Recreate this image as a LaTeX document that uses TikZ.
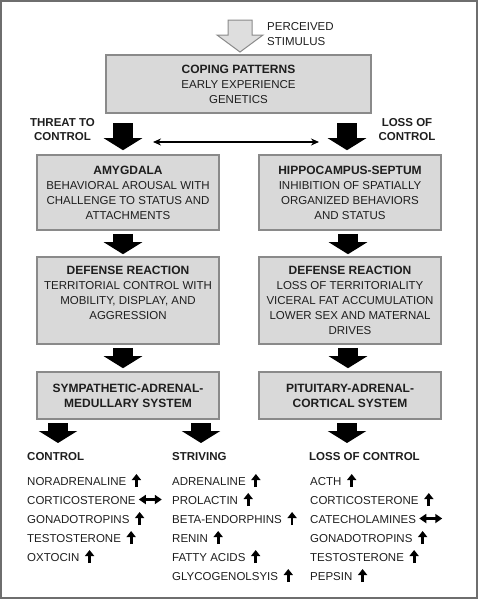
\documentclass[tikz,border=0pt]{standalone}
\usepackage{fontspec}
\setmainfont{Liberation Sans}
\usetikzlibrary{arrows.meta,positioning}
\definecolor{boxfill}{RGB}{217,217,217}
\definecolor{boxline}{RGB}{138,138,138}
\definecolor{inkgray}{RGB}{30,30,30}
\definecolor{stimfill}{RGB}{222,222,222}
\newcommand{\boxhead}{\fontsize{12}{15}\selectfont\bfseries}
\tikzset{
  box/.style={rectangle, draw=boxline, line width=1.6pt, fill=boxfill, align=center, inner sep=0pt,
    font=\fontsize{11.5}{15}\selectfont, text=inkgray},
  boldbox/.style={box, font=\boxhead},
  bigarrow/.style={black, line width=20pt, -{Triangle[width=38pt,length=12pt]}},
  stimarrow/.style={draw=boxline, fill=stimfill, line width=1pt},
  tag/.style={align=center, inner sep=0pt, font=\fontsize{11.5}{14}\selectfont\bfseries, text=inkgray},
  item/.style={anchor=base west, inner sep=0pt, font=\fontsize{11.5}{14}\selectfont, text=inkgray},
  head/.style={item, font=\fontsize{11.5}{14}\selectfont\bfseries},
  upmark/.style={black, line width=2.8pt, -{Triangle[width=9pt,length=6pt]}},
  lrmark/.style={black, line width=2.8pt, {Triangle[width=9pt,length=7pt]}-{Triangle[width=9pt,length=7pt]}},
  swap/.style={black, line width=1.6pt, {Stealth[length=8pt,width=7pt]}-{Stealth[length=8pt,width=7pt]}}
}
\begin{document}
\begin{tikzpicture}[x=1pt,y=-1pt]
\useasboundingbox (0,0) rectangle (480,600);
\draw[boxline!80!black, line width=1.5pt] (1,1) rectangle (477,598);

% stimulus
\coordinate (stim) at (228,20);
\draw[stimarrow] (stim) -- ++(24,0) -- ++(0,15) -- ++(11,0) -- ++(-23,17) -- ++(-23,-17) -- ++(11,0) -- cycle;
\node (perc) [anchor=west, align=left, inner sep=0pt, font=\fontsize{11.5}{15}\selectfont, text=inkgray] at (267,34.5) {PERCEIVED\\STIMULUS};

% boxes
\node (coping) [box, minimum width=265pt, minimum height=58pt] at (238.5,84) {{\boxhead COPING PATTERNS}\\EARLY EXPERIENCE\\GENETICS};
\node (amy) [box, minimum width=182pt, minimum height=75pt] at (128,192.5) {{\boxhead AMYGDALA}\\BEHAVIORAL AROUSAL WITH\\CHALLENGE TO STATUS AND\\ATTACHMENTS};
\node (hip) [box, minimum width=182pt, minimum height=75pt] at (350,192.5) {{\boxhead HIPPOCAMPUS-SEPTUM}\\INHIBITION OF SPATIALLY\\ORGANIZED BEHAVIORS\\AND STATUS};
\node (defl) [box, minimum width=182pt, minimum height=87pt] at (128,300.5) {{\boxhead DEFENSE REACTION}\\TERRITORIAL CONTROL WITH\\MOBILITY, DISPLAY, AND\\AGGRESSION\\\mbox{}};
\node (defr) [box, minimum width=182pt, minimum height=87pt] at (350,300.5) {{\boxhead DEFENSE REACTION}\\LOSS OF TERRITORIALITY\\VICERAL FAT ACCUMULATION\\LOWER SEX AND MATERNAL\\DRIVES};
\node (sym) [boldbox, minimum width=182pt, minimum height=47pt] at (128,395.5) {SYMPATHETIC-ADRENAL-\\MEDULLARY SYSTEM};
\node (pit) [boldbox, minimum width=182pt, minimum height=47pt] at (350,395.5) {PITUITARY-ADRENAL-\\CORTICAL SYSTEM};

% side labels
\node (threat) [tag] at (62.5,130) {THREAT TO\\CONTROL};
\node (loss) [tag] at (407,130) {LOSS OF\\CONTROL};
\coordinate (thr) at (123,123);
\coordinate (lsc) at (347,123);
\coordinate (dl) at (153,142);
\coordinate (dr) at (319,142);

% big arrows
\draw[bigarrow, shorten >=4pt] (thr) -- ([xshift=-5pt]amy.north);
\draw[bigarrow, shorten >=4pt] (lsc) -- ([xshift=-3pt]hip.north);
\draw[swap] (dl) -- (dr);
\draw[bigarrow, shorten <=3pt, shorten >=2pt] ([xshift=-5pt]amy.south) -- ([xshift=-5pt]defl.north);
\draw[bigarrow, shorten <=3pt, shorten >=2pt] ([xshift=-2pt]hip.south) -- ([xshift=-2pt]defr.north);
\draw[bigarrow, shorten <=3pt, shorten >=3pt] ([xshift=-5pt]defl.south) -- ([xshift=-5pt]sym.north);
\draw[bigarrow, shorten <=3pt, shorten >=3pt] ([xshift=-2pt]defr.south) -- ([xshift=-2pt]pit.north);
\coordinate (ctop) at (58,423);
\coordinate (stop) at (201,423);
\coordinate (ltop) at (347,423);
\draw[bigarrow] (ctop) -- ++(0,20);
\draw[bigarrow] (stop) -- ++(0,20);
\draw[bigarrow] (ltop) -- ++(0,20);

% control column
\node (hctl) [head] at (27,460) {CONTROL};
\node (c1) [item] at (27,485) {NORADRENALINE};
\node (c2) [item] at (27,504) {CORTICOSTERONE};
\node (c3) [item] at (27,523) {GONADOTROPINS};
\node (c4) [item] at (27,542) {TESTOSTERONE};
\node (c5) [item] at (27,561) {OXTOCIN};
\draw[upmark] ([xshift=10pt,yshift=-2pt]c1.base east) -- ++(0,-13);
\draw[lrmark] ([xshift=3pt,yshift=4.5pt]c2.base east) -- ++(23,0);
\draw[upmark] ([xshift=10pt,yshift=-2pt]c3.base east) -- ++(0,-13);
\draw[upmark] ([xshift=10pt,yshift=-2pt]c4.base east) -- ++(0,-13);
\draw[upmark] ([xshift=10pt,yshift=-2pt]c5.base east) -- ++(0,-13);

% striving column
\node (hstr) [head] at (172,460) {STRIVING};
\node (s1) [item] at (172,485) {ADRENALINE};
\node (s2) [item] at (172,504) {PROLACTIN};
\node (s3) [item] at (172,523) {BETA-ENDORPHINS};
\node (s4) [item] at (172,542) {RENIN};
\node (s5) [item] at (172,561) {FATTY ACIDS};
\node (s6) [item] at (172,580) {GLYCOGENOLSYIS};
\draw[upmark] ([xshift=10pt,yshift=-2pt]s1.base east) -- ++(0,-13);
\draw[upmark] ([xshift=10pt,yshift=-2pt]s2.base east) -- ++(0,-13);
\draw[upmark] ([xshift=10pt,yshift=-2pt]s3.base east) -- ++(0,-13);
\draw[upmark] ([xshift=10pt,yshift=-2pt]s4.base east) -- ++(0,-13);
\draw[upmark] ([xshift=10pt,yshift=-2pt]s5.base east) -- ++(0,-13);
\draw[upmark] ([xshift=10pt,yshift=-2pt]s6.base east) -- ++(0,-13);

% loss of control column
\node (hlos) [head] at (309,460) {LOSS OF CONTROL};
\node (l1) [item] at (310,485) {ACTH};
\node (l2) [item] at (310,504) {CORTICOSTERONE};
\node (l3) [item] at (310,523) {CATECHOLAMINES};
\node (l4) [item] at (310,542) {GONADOTROPINS};
\node (l5) [item] at (310,561) {TESTOSTERONE};
\node (l6) [item] at (310,580) {PEPSIN};
\draw[upmark] ([xshift=10pt,yshift=-2pt]l1.base east) -- ++(0,-13);
\draw[upmark] ([xshift=10pt,yshift=-2pt]l2.base east) -- ++(0,-13);
\draw[lrmark] ([xshift=3pt,yshift=4.5pt]l3.base east) -- ++(23,0);
\draw[upmark] ([xshift=10pt,yshift=-2pt]l4.base east) -- ++(0,-13);
\draw[upmark] ([xshift=10pt,yshift=-2pt]l5.base east) -- ++(0,-13);
\draw[upmark] ([xshift=10pt,yshift=-2pt]l6.base east) -- ++(0,-13);
\end{tikzpicture}
\end{document}
